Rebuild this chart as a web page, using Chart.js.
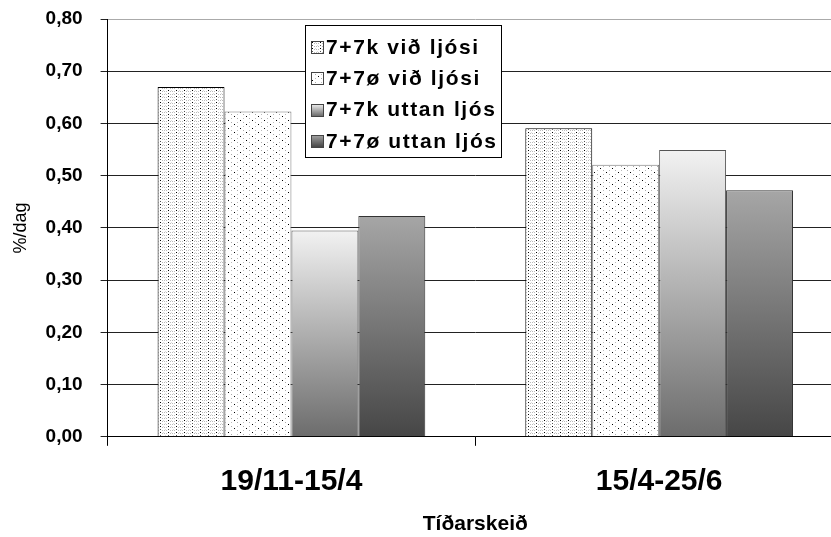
<!DOCTYPE html>
<html>
<head>
<meta charset="utf-8">
<script src="https://cdn.jsdelivr.net/npm/chart.js@4"></script>
<style>
  html, body { margin: 0; padding: 0; background: #fff; overflow: hidden; }
  #wrap { width: 860px; height: 537px; }
</style>
</head>
<body>
<div id="wrap"><canvas id="chart" width="860" height="537"></canvas></div>
<script>
// Data
const periods = ["19/11-15/4", "15/4-25/6"];
const seriesNames = ["7+7k við ljósi", "7+7ø við ljósi", "7+7k uttan ljós", "7+7ø uttan ljós"];
const kLight = [0.670, 0.591];
const oLight = [0.623, 0.521];
const kDark = [0.395, 0.549];
const oDark = [0.423, 0.472];
const yTicks = [0, 0.1, 0.2, 0.3, 0.4, 0.5, 0.6, 0.7, 0.8];

const FONT = "'Liberation Sans', Arial, sans-serif";

// dotted fills like the old office patterns
function makePattern(w, h, dots) {
  let c = document.createElement("canvas");
  c.width = w;
  c.height = h;
  let g = c.getContext("2d");
  g.fillStyle = "#fff";
  g.fillRect(0, 0, w, h);
  dots.forEach(d => {
    g.fillStyle = d[2];
    g.fillRect(d[0], d[1], 1, 1);
  });
  return g.createPattern(c, "repeat");
}

const densePattern = makePattern(8, 6, [
  [0, 0, "#000"], [0, 3, "#555"],
  [2, 1, "#bbb"], [4, 1, "#bbb"], [6, 1, "#bbb"],
  [2, 4, "#bbb"], [4, 4, "#bbb"], [6, 4, "#bbb"],
  [3, 0, "#ddd"], [5, 3, "#ddd"]
]);
const sparsePattern = makePattern(12, 8, [
  [0, 0, "#000"], [6, 4, "#000"],
  [3, 2, "#aaa"], [9, 6, "#aaa"], [9, 2, "#bbb"], [3, 6, "#bbb"]
]);

// vertical gradient over the height of each bar
function barGradient(topColor, bottomColor) {
  return function (context) {
    let chart = context.chart;
    let y = chart.scales.y;
    if (!y || context.raw == null) return topColor;
    let y0 = y.getPixelForValue(context.raw);
    let y1 = y.getPixelForValue(0);
    if (!isFinite(y0) || !isFinite(y1) || y0 === y1) return topColor;
    let grad = chart.ctx.createLinearGradient(0, y0, 0, y1);
    grad.addColorStop(0, topColor);
    grad.addColorStop(1, bottomColor);
    return grad;
  };
}

// legend box sitting inside the plot
const boxLegend = {
  id: "boxLegend",
  afterDraw(chart) {
    let ctx = chart.ctx;
    let x = 305, y = 25, w = 196, h = 132;
    ctx.save();
    ctx.fillStyle = "#fff";
    ctx.fillRect(x, y, w, h);
    ctx.strokeStyle = "#000";
    ctx.lineWidth = 1;
    ctx.strokeRect(x + 0.5, y + 0.5, w, h);
    ctx.font = "bold 21px " + FONT;
    if ("letterSpacing" in ctx) ctx.letterSpacing = "1.6px";
    ctx.textBaseline = "middle";
    chart.data.datasets.forEach((ds, i) => {
      let cy = 47 + i * 31.3;
      let sx = 311, sy = Math.round(cy - 6);
      let fill = ds.legendFill;
      if (fill === "grad") {
        let g = ctx.createLinearGradient(0, sy, 0, sy + 12);
        g.addColorStop(0, ds.gradTop);
        g.addColorStop(1, ds.gradBottom);
        fill = g;
      }
      ctx.fillStyle = fill;
      ctx.fillRect(sx, sy, 12, 12);
      ctx.strokeStyle = "#444";
      ctx.strokeRect(sx + 0.5, sy + 0.5, 12, 12);
      ctx.fillStyle = "#000";
      ctx.fillText(ds.label, 326, cy + 1);
    });
    ctx.restore();
  }
};

new Chart(document.getElementById("chart"), {
  type: "bar",
  data: {
    labels: periods,
    datasets: [
      {
        label: seriesNames[0],
        data: kLight,
        backgroundColor: densePattern,
        legendFill: densePattern,
        borderColor: "#000",
        borderWidth: 1
      },
      {
        label: seriesNames[1],
        data: oLight,
        backgroundColor: sparsePattern,
        legendFill: sparsePattern,
        borderColor: "#777",
        borderWidth: 1
      },
      {
        label: seriesNames[2],
        data: kDark,
        backgroundColor: barGradient("#f2f2f2", "#6c6c6c"),
        legendFill: "grad",
        gradTop: "#f2f2f2",
        gradBottom: "#6c6c6c",
        borderColor: "#555",
        borderWidth: 1
      },
      {
        label: seriesNames[3],
        data: oDark,
        backgroundColor: barGradient("#a6a6a6", "#464646"),
        legendFill: "grad",
        gradTop: "#a6a6a6",
        gradBottom: "#464646",
        borderColor: "#333",
        borderWidth: 1
      }
    ]
  },
  options: {
    responsive: false,
    animation: false,
    events: [],
    layout: {
      padding: { top: 19, right: 17, left: 0, bottom: 0 }
    },
    datasets: {
      bar: { categoryPercentage: 0.728, barPercentage: 1 }
    },
    plugins: {
      legend: { display: false },
      tooltip: { enabled: false }
    },
    scales: {
      x: {
        offset: true,
        grid: {
          offset: true,
          drawOnChartArea: false,
          tickLength: 9,
          tickColor: "#000"
        },
        border: { color: "#000", width: 1 },
        ticks: {
          color: "#000",
          padding: 18,
          font: { family: FONT, size: 30, weight: "bold" }
        },
        title: {
          display: true,
          text: "Tíðarskeið",
          color: "#000",
          padding: { top: -6, bottom: 0 },
          font: { family: FONT, size: 21, weight: "bold" }
        }
      },
      y: {
        min: 0,
        max: 0.8,
        afterBuildTicks(axis) {
          axis.ticks = yTicks.map(v => ({ value: v }));
        },
        // the label padding otherwise pushes the plot top down
        afterFit(axis) {
          axis.paddingTop = 0;
          axis.paddingBottom = 0;
        },
        grid: {
          color: ctx => (ctx.tick && ctx.tick.value === 0.8 ? "#aaa" : "#222"),
          tickColor: "#222",
          tickLength: 7
        },
        border: { color: "#000", width: 1 },
        ticks: {
          color: "#000",
          padding: 18,
          font: { family: FONT, size: 19, weight: "bold" },
          callback: v => v.toFixed(2).replace(".", ",")
        },
        title: {
          display: true,
          text: "%/dag",
          color: "#000",
          padding: { top: 10, bottom: -4 },
          font: { family: FONT, size: 18 }
        }
      }
    }
  },
  plugins: [boxLegend]
});
</script>
</body>
</html>
